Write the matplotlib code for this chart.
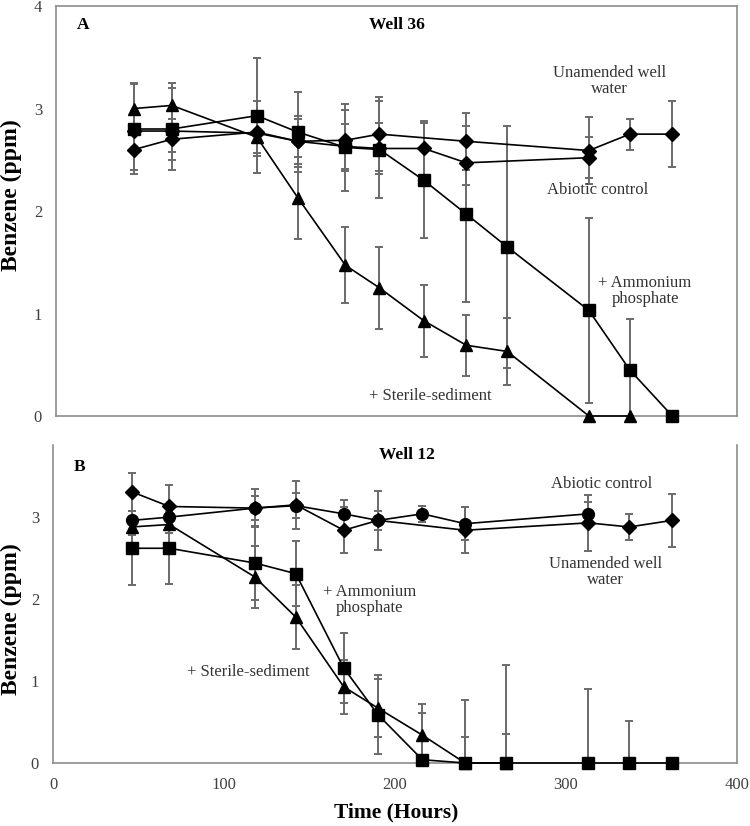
import matplotlib
matplotlib.use("Agg")
import matplotlib.pyplot as plt

plt.rcParams["font.family"] = ["Liberation Serif", "DejaVu Serif"]

# ---- Panel A: Well 36 ----
a_tri_t = [46, 68, 118, 142, 170, 190, 216, 241, 265, 313, 337]
a_tri_y = [3.00, 3.03, 2.72, 2.13, 1.47, 1.25, 0.93, 0.69, 0.63, 0, 0]
a_tri_e = [0.25, 0.22, 0.35, 0.40, 0.37, 0.40, 0.35, 0.30, 0.33, 0, 0]

a_sq_t = [46, 68, 118, 142, 170, 190, 216, 241, 265, 313, 337, 362]
a_sq_y = [2.80, 2.80, 2.93, 2.77, 2.62, 2.60, 2.30, 1.97, 1.65, 1.03, 0.45, 0]
a_sq_e = [0.44, 0.40, 0.56, 0.39, 0.42, 0.47, 0.56, 0.86, 1.18, 0.90, 0.50, 0]

a_un_t = [46, 68, 118, 142, 170, 190, 241, 313, 337, 362]
a_un_y = [2.60, 2.70, 2.77, 2.68, 2.69, 2.75, 2.68, 2.59, 2.75, 2.75]
a_un_e = [0.20, 0.20, 0.20, 0.25, 0.30, 0.36, 0.28, 0.33, 0.15, 0.32]

a_ab_t = [46, 68, 118, 142, 170, 190, 216, 241, 313]
a_ab_y = [2.78, 2.78, 2.76, 2.68, 2.63, 2.61, 2.61, 2.47, 2.52]
a_ab_e = [0.20, 0.20, 0.22, 0.22, 0.22, 0.25, 0.27, 0.22, 0.20]

# ---- Panel B: Well 12 ----
b_un_t = [46, 68, 118, 142, 170, 190, 241, 313, 337, 362]
b_un_y = [3.31, 3.13, 3.11, 3.15, 2.84, 2.96, 2.84, 2.93, 2.88, 2.96]
b_un_e = [0.23, 0.26, 0.23, 0.29, 0.28, 0.36, 0.28, 0.34, 0.16, 0.32]

b_ab_t = [46, 68, 118, 142, 170, 190, 216, 241, 313]
b_ab_y = [2.96, 3.00, 3.11, 3.14, 3.04, 2.96, 3.04, 2.92, 3.04]
b_ab_e = [0.12, 0.12, 0.15, 0.15, 0.17, 0.12, 0.10, 0.20, 0.15]

b_tri_t = [46, 68, 118, 142, 170, 190, 216, 241, 265]
b_tri_y = [2.88, 2.91, 2.27, 1.78, 0.93, 0.67, 0.34, 0, 0]
b_tri_e = [0.10, 0.10, 0.38, 0.39, 0.33, 0.35, 0.27, 0.32, 0.35]

b_sq_t = [46, 68, 118, 142, 170, 190, 216, 241, 265, 313, 337, 362]
b_sq_y = [2.62, 2.62, 2.44, 2.31, 1.16, 0.59, 0.04, 0, 0, 0, 0, 0]
b_sq_e = [0.45, 0.44, 0.45, 0.40, 0.43, 0.48, 0.68, 0.77, 1.19, 0.90, 0.51, 0]

xticks = [0, 100, 200, 300, 400]
a_yticks = [0, 1, 2, 3, 4]
b_yticks = [0, 1, 2, 3]

ECOL = "#6a6a6a"
FRAME = "#8c8c8c"
TXT = "#333333"


def series(ax, t, y, e, marker, ms):
    ax.errorbar(t, y, yerr=e, fmt="none", ecolor=ECOL, elinewidth=1.4,
                capsize=3, capthick=1.4, zorder=2)
    ax.plot(t, y, color="black", lw=1.2, marker=marker, ms=ms,
            mfc="black", mec="black", zorder=3, clip_on=False)


def style(ax, yticks):
    ax.set_xlim(0, 400)
    ax.set_yticks(yticks)
    ax.tick_params(length=0, labelsize=12, colors="#404040", pad=10)
    for s in ax.spines.values():
        s.set_color(FRAME)
        s.set_linewidth(1.2)


fig = plt.figure(figsize=(7.5, 8.26), dpi=100)

axA = fig.add_axes([56 / 750, 1 - 416 / 826, 681 / 750, 410 / 826])
series(axA, a_un_t, a_un_y, a_un_e, "D", 7)
series(axA, a_ab_t, a_ab_y, a_ab_e, "D", 7)
series(axA, a_sq_t, a_sq_y, a_sq_e, "s", 8.5)
series(axA, a_tri_t, a_tri_y, a_tri_e, "^", 9)
axA.set_ylim(0, 4)
style(axA, a_yticks)
axA.set_xticks([])

axA.text(12, 3.81, "A", fontsize=12.5, fontweight="bold", va="center")
axA.text(200, 3.81, "Well 36", fontsize=12.5, fontweight="bold", ha="center", va="center")
axA.text(325, 3.27, "Unamended well\nwater", fontsize=12, color=TXT, ha="center", va="center",
         linespacing=1.05)
axA.text(318, 2.2, "Abiotic control", fontsize=12, color=TXT, ha="center", va="center")
axA.text(346, 1.22, "+ Ammonium\nphosphate", fontsize=12, color=TXT, ha="center", va="center",
         linespacing=1.05)
axA.text(220, 0.2, "+ Sterile-sediment", fontsize=12, color=TXT, ha="center", va="center")

axB = fig.add_axes([53 / 750, 1 - 763 / 826, 684 / 750, 318 / 826])
series(axB, b_un_t, b_un_y, b_un_e, "D", 7)
series(axB, b_ab_t, b_ab_y, b_ab_e, "o", 8.5)
series(axB, b_tri_t, b_tri_y, b_tri_e, "^", 9)
series(axB, b_sq_t, b_sq_y, b_sq_e, "s", 8.5)
axB.set_ylim(0, 3.88)
style(axB, b_yticks)
axB.set_xticks(xticks)
axB.spines["top"].set_visible(False)

axB.text(12, 3.61, "B", fontsize=12.5, fontweight="bold", va="center")
axB.text(207, 3.76, "Well 12", fontsize=12.5, fontweight="bold", ha="center", va="center")
axB.text(321, 3.4, "Abiotic control", fontsize=12, color=TXT, ha="center", va="center")
axB.text(323, 2.33, "Unamended well\nwater", fontsize=12, color=TXT, ha="center", va="center",
         linespacing=1.05)
axB.text(185, 1.99, "+ Ammonium\nphosphate", fontsize=12, color=TXT, ha="center", va="center",
         linespacing=1.05)
axB.text(114, 1.11, "+ Sterile-sediment", fontsize=12, color=TXT, ha="center", va="center")

fig.text(0.015, 1 - 195 / 826, "Benzene (ppm)", rotation=90, fontsize=17,
         fontweight="bold", ha="center", va="center")
fig.text(0.015, 1 - 619 / 826, "Benzene (ppm)", rotation=90, fontsize=17,
         fontweight="bold", ha="center", va="center")
fig.text(396 / 750, 1 - 812 / 826, "Time (Hours)", fontsize=15.5, fontweight="bold",
         ha="center", va="center")

fig.savefig("out.png", dpi=100)
